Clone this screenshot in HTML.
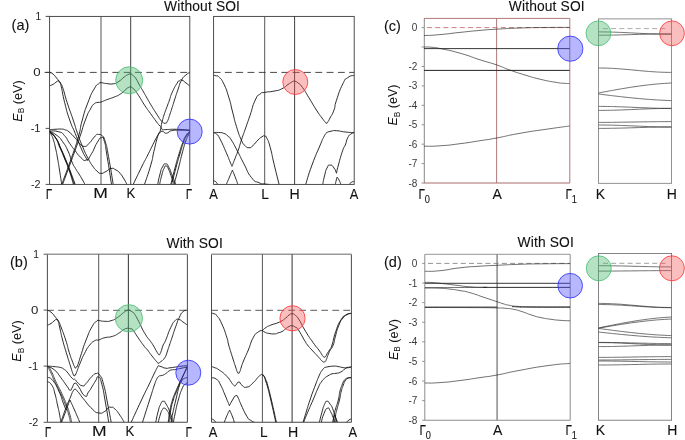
<!DOCTYPE html>
<html><head><meta charset="utf-8"><title>Band structure</title>
<style>
html,body{margin:0;padding:0;background:#fff;}
body{width:685px;height:440px;overflow:hidden;font-family:"Liberation Sans",sans-serif;}
svg{display:block;}
svg text{font-family:"Liberation Sans",sans-serif;}
</style></head><body>
<svg width="685" height="440" viewBox="0 0 685 440">
<rect width="685" height="440" fill="#fff"/>
<defs>
<clipPath id="aL"><rect x="49.60" y="16.40" width="140.20" height="168.00"/></clipPath>
<clipPath id="aR"><rect x="213.60" y="16.40" width="140.60" height="168.00"/></clipPath>
<clipPath id="bL"><rect x="47.40" y="254.20" width="140.00" height="168.10"/></clipPath>
<clipPath id="bR"><rect x="211.50" y="254.20" width="139.90" height="168.10"/></clipPath>
<clipPath id="cL"><rect x="424.00" y="18.40" width="145.80" height="164.60"/></clipPath>
<clipPath id="cR"><rect x="598.40" y="18.90" width="73.20" height="164.40"/></clipPath>
<clipPath id="dL"><rect x="424.70" y="254.30" width="145.50" height="166.00"/></clipPath>
<clipPath id="dR"><rect x="598.40" y="253.40" width="73.20" height="166.80"/></clipPath>
</defs>
<rect x="49.60" y="16.40" width="140.20" height="168.00" fill="none" stroke="#3a3a3a" stroke-width="0.9"/>
<line x1="101.00" y1="16.40" x2="101.00" y2="184.40" stroke="#555" stroke-width="1.0" />
<line x1="130.70" y1="16.40" x2="130.70" y2="184.40" stroke="#2a2a2a" stroke-width="0.9" />
<line x1="44.60" y1="72.40" x2="189.80" y2="72.40" stroke="#333" stroke-width="0.9" stroke-dasharray="6.9 4.4"/>
<rect x="213.60" y="16.40" width="140.60" height="168.00" fill="none" stroke="#3a3a3a" stroke-width="0.9"/>
<line x1="264.70" y1="16.40" x2="264.70" y2="184.40" stroke="#555" stroke-width="1.0" />
<line x1="294.60" y1="16.40" x2="294.60" y2="184.40" stroke="#2a2a2a" stroke-width="0.9" />
<line x1="213.60" y1="72.40" x2="354.20" y2="72.40" stroke="#333" stroke-width="0.9" stroke-dasharray="6.9 4.4"/>
<line x1="45.60" y1="16.40" x2="49.60" y2="16.40" stroke="#3a3a3a" stroke-width="0.9" />
<line x1="45.60" y1="72.40" x2="49.60" y2="72.40" stroke="#3a3a3a" stroke-width="0.9" />
<line x1="45.60" y1="128.40" x2="49.60" y2="128.40" stroke="#3a3a3a" stroke-width="0.9" />
<line x1="45.60" y1="184.40" x2="49.60" y2="184.40" stroke="#3a3a3a" stroke-width="0.9" />
<line x1="47.40" y1="254.20" x2="47.40" y2="422.30" stroke="#4a4a4a" stroke-width="1.0" />
<line x1="187.40" y1="254.20" x2="187.40" y2="422.30" stroke="#4a4a4a" stroke-width="1.0" />
<line x1="47.40" y1="422.30" x2="187.40" y2="422.30" stroke="#444" stroke-width="1.1" />
<line x1="47.10" y1="254.20" x2="187.70" y2="254.20" stroke="#9a9a9a" stroke-width="1.4" />
<line x1="98.70" y1="254.20" x2="98.70" y2="422.30" stroke="#555" stroke-width="1.0" />
<line x1="128.40" y1="254.20" x2="128.40" y2="422.30" stroke="#444" stroke-width="1.1" />
<line x1="47.20" y1="310.30" x2="187.40" y2="310.30" stroke="#4a4a4a" stroke-width="0.9" stroke-dasharray="6.7 4.3"/>
<line x1="211.50" y1="254.20" x2="211.50" y2="422.30" stroke="#4a4a4a" stroke-width="1.0" />
<line x1="351.40" y1="254.20" x2="351.40" y2="422.30" stroke="#4a4a4a" stroke-width="1.0" />
<line x1="211.50" y1="422.30" x2="351.40" y2="422.30" stroke="#444" stroke-width="1.1" />
<line x1="211.20" y1="254.20" x2="351.70" y2="254.20" stroke="#9a9a9a" stroke-width="1.4" />
<line x1="262.40" y1="254.20" x2="262.40" y2="422.30" stroke="#555" stroke-width="1.0" />
<line x1="292.10" y1="254.20" x2="292.10" y2="422.30" stroke="#444" stroke-width="1.1" />
<line x1="211.30" y1="310.30" x2="351.40" y2="310.30" stroke="#4a4a4a" stroke-width="0.9" stroke-dasharray="6.7 4.3"/>
<line x1="43.60" y1="254.20" x2="47.40" y2="254.20" stroke="#444" stroke-width="0.9" />
<line x1="43.60" y1="310.10" x2="47.40" y2="310.10" stroke="#444" stroke-width="0.9" />
<line x1="43.60" y1="366.10" x2="47.40" y2="366.10" stroke="#444" stroke-width="0.9" />
<line x1="43.60" y1="422.30" x2="47.40" y2="422.30" stroke="#444" stroke-width="0.9" />
<line x1="424.30" y1="18.40" x2="424.30" y2="183.00" stroke="#7a7a7a" stroke-width="0.9" />
<line x1="424.00" y1="18.40" x2="569.80" y2="18.40" stroke="#a86a6a" stroke-width="0.9" />
<line x1="424.00" y1="183.00" x2="569.80" y2="183.00" stroke="#a86a6a" stroke-width="1.0" />
<line x1="496.60" y1="18.40" x2="496.60" y2="183.00" stroke="#a86a6a" stroke-width="0.9" />
<line x1="569.80" y1="18.40" x2="569.80" y2="183.00" stroke="#a86a6a" stroke-width="0.9" />
<line x1="427.00" y1="27.60" x2="569.80" y2="27.60" stroke="#c4605a" stroke-width="0.8" stroke-dasharray="5 3.2"/>
<line x1="421.60" y1="27.60" x2="424.00" y2="27.60" stroke="#777" stroke-width="0.8" />
<line x1="421.60" y1="47.03" x2="424.00" y2="47.03" stroke="#777" stroke-width="0.8" />
<line x1="421.60" y1="66.46" x2="424.00" y2="66.46" stroke="#777" stroke-width="0.8" />
<line x1="421.60" y1="85.89" x2="424.00" y2="85.89" stroke="#777" stroke-width="0.8" />
<line x1="421.60" y1="105.32" x2="424.00" y2="105.32" stroke="#777" stroke-width="0.8" />
<line x1="421.60" y1="124.75" x2="424.00" y2="124.75" stroke="#777" stroke-width="0.8" />
<line x1="421.60" y1="144.18" x2="424.00" y2="144.18" stroke="#777" stroke-width="0.8" />
<line x1="421.60" y1="163.61" x2="424.00" y2="163.61" stroke="#777" stroke-width="0.8" />
<line x1="421.60" y1="183.04" x2="424.00" y2="183.04" stroke="#777" stroke-width="0.8" />
<rect x="598.4" y="18.9" width="73.2" height="164.4" fill="none" stroke="#777" stroke-width="0.8"/>
<line x1="602.90" y1="28.60" x2="667.70" y2="28.60" stroke="#999" stroke-width="0.8" stroke-dasharray="5 3.2"/>
<line x1="424.80" y1="254.30" x2="424.80" y2="420.30" stroke="#808080" stroke-width="0.9" />
<line x1="424.70" y1="254.30" x2="570.20" y2="254.30" stroke="#aaa" stroke-width="1.2" />
<line x1="424.70" y1="420.30" x2="570.20" y2="420.30" stroke="#8c8c8c" stroke-width="1.1" />
<line x1="497.10" y1="254.30" x2="497.10" y2="420.30" stroke="#8a8a8a" stroke-width="1.5" />
<line x1="570.20" y1="254.30" x2="570.20" y2="420.30" stroke="#8c8c8c" stroke-width="1.0" />
<line x1="428.00" y1="263.40" x2="570.20" y2="263.40" stroke="#777" stroke-width="0.8" stroke-dasharray="5 3.2"/>
<line x1="422.20" y1="263.40" x2="424.70" y2="263.40" stroke="#777" stroke-width="0.8" />
<line x1="422.20" y1="283.00" x2="424.70" y2="283.00" stroke="#777" stroke-width="0.8" />
<line x1="422.20" y1="302.60" x2="424.70" y2="302.60" stroke="#777" stroke-width="0.8" />
<line x1="422.20" y1="322.20" x2="424.70" y2="322.20" stroke="#777" stroke-width="0.8" />
<line x1="422.20" y1="341.80" x2="424.70" y2="341.80" stroke="#777" stroke-width="0.8" />
<line x1="422.20" y1="361.40" x2="424.70" y2="361.40" stroke="#777" stroke-width="0.8" />
<line x1="422.20" y1="381.00" x2="424.70" y2="381.00" stroke="#777" stroke-width="0.8" />
<line x1="422.20" y1="400.60" x2="424.70" y2="400.60" stroke="#777" stroke-width="0.8" />
<line x1="422.20" y1="420.20" x2="424.70" y2="420.20" stroke="#777" stroke-width="0.8" />
<rect x="598.4" y="253.4" width="73.2" height="166.8" fill="none" stroke="#666" stroke-width="0.8"/>
<line x1="603.00" y1="263.30" x2="667.00" y2="263.30" stroke="#888" stroke-width="0.8" stroke-dasharray="5 3.2"/>
<g clip-path="url(#aL)" fill="none" stroke="#141414" stroke-width="0.9" stroke-linejoin="round">
<path d="M49.60,72.50 C50.73,73.00 50.70,72.17 53.00,74.00 C55.30,75.83 54.50,75.67 56.50,78.00 C58.50,80.33 57.63,79.27 59.00,81.00 C60.37,82.73 59.27,80.70 60.60,83.20 C61.93,85.70 60.80,82.00 63.00,88.50 C65.20,95.00 63.80,92.20 67.20,102.70 C70.60,113.20 69.73,109.70 73.20,120.00 C76.67,130.30 74.50,124.80 77.60,133.60 C80.70,142.40 79.03,138.20 82.50,146.40 C85.97,154.60 84.60,151.63 88.00,158.20 C91.40,164.77 89.70,161.83 92.70,166.10 C95.70,170.37 94.33,168.60 97.00,171.00 C99.67,173.40 97.70,173.13 100.70,173.30 C103.70,173.47 102.57,173.10 106.00,171.50 C109.43,169.90 107.67,169.00 111.00,168.50 C114.33,168.00 113.00,168.40 116.00,170.00 C119.00,171.60 117.33,170.30 120.00,173.30 C122.67,176.30 121.70,175.30 124.00,179.00 C126.30,182.70 125.93,182.60 126.90,184.40"/>
<path d="M49.60,85.80 C50.73,85.33 50.87,85.60 53.00,84.40 C55.13,83.20 54.23,83.33 56.00,82.20 C57.77,81.07 57.10,81.00 58.30,81.00 C59.50,81.00 58.63,80.37 59.60,82.20 C60.57,84.03 59.50,79.67 61.20,86.50 C62.90,93.33 61.87,91.53 64.70,102.70 C67.53,113.87 66.17,109.70 69.70,120.00 C73.23,130.30 71.63,124.50 75.30,133.60 C78.97,142.70 77.07,139.10 80.70,147.30 C84.33,155.50 83.77,153.97 86.20,158.20 C88.63,162.43 87.40,159.40 88.00,160.00"/>
<path d="M61.70,184.40 C64.70,176.27 65.27,175.40 70.70,160.00 C76.13,144.60 74.13,151.53 78.00,138.20 C81.87,124.87 79.00,131.83 82.30,120.00 C85.60,108.17 83.93,113.07 87.90,102.70 C91.87,92.33 90.43,95.33 94.20,88.90 C97.97,82.47 96.90,85.47 99.20,83.40 C101.50,81.33 98.57,82.63 101.10,82.70 C103.63,82.77 102.80,83.23 106.80,83.60 C110.80,83.97 109.33,84.37 113.10,83.80 C116.87,83.23 114.33,84.20 118.10,81.90 C121.87,79.60 121.10,79.33 124.40,76.90 C127.70,74.47 125.90,75.53 128.00,74.60 C130.10,73.67 128.97,73.77 130.70,74.10 C132.43,74.43 131.43,74.03 133.20,75.60 C134.97,77.17 133.87,75.57 136.00,78.80 C138.13,82.03 137.33,81.33 139.60,85.30 C141.87,89.27 140.30,86.40 142.80,90.70 C145.30,95.00 144.20,93.17 147.10,98.20 C150.00,103.23 148.23,100.40 151.50,105.80 C154.77,111.20 153.87,109.67 156.90,114.40 C159.93,119.13 158.60,117.37 160.60,120.00 C162.60,122.63 161.43,121.23 162.90,122.30 C164.37,123.37 163.53,123.50 165.00,123.20 C166.47,122.90 165.63,124.47 167.30,121.40 C168.97,118.33 168.40,118.57 170.00,114.00 C171.60,109.43 170.60,112.37 172.10,107.70 C173.60,103.03 172.60,105.87 174.50,100.00 C176.40,94.13 175.47,96.67 177.80,90.10 C180.13,83.53 178.80,85.33 181.50,80.30 C184.20,75.27 183.13,77.60 185.90,75.00 C188.67,72.40 188.50,73.33 189.80,72.50"/>
<path d="M62.60,184.40 C65.60,176.27 66.00,175.40 71.60,160.00 C77.20,144.60 74.80,151.53 79.40,138.20 C84.00,124.87 81.70,129.77 85.40,120.00 C89.10,110.23 87.57,114.27 90.50,108.90 C93.43,103.53 91.70,106.07 94.20,103.90 C96.70,101.73 95.70,103.03 98.00,102.40 C100.30,101.77 98.17,102.90 101.10,102.00 C104.03,101.10 102.40,101.37 106.80,99.70 C111.20,98.03 109.70,98.93 114.30,97.00 C118.90,95.07 116.83,96.37 120.60,93.90 C124.37,91.43 122.97,91.73 125.60,89.60 C128.23,87.47 126.80,88.37 128.50,87.50 C130.20,86.63 129.13,86.63 130.70,87.00 C132.27,87.37 131.67,87.37 133.20,88.60 C134.73,89.83 133.17,87.87 135.30,90.70 C137.43,93.53 136.37,92.07 139.60,97.10 C142.83,102.13 141.40,100.37 145.00,105.80 C148.60,111.23 146.80,108.37 150.40,113.40 C154.00,118.43 152.93,117.03 155.80,120.90 C158.67,124.77 157.30,123.03 159.00,125.00 C160.70,126.97 160.27,126.20 160.90,126.80 M160.90,126.80 C161.43,127.67 160.37,128.50 162.50,129.40 C164.63,130.30 162.67,129.53 167.30,129.50 C171.93,129.47 168.90,129.13 176.40,129.30 C183.90,129.47 185.33,129.77 189.80,130.00"/>
<path d="M189.80,86.00 C188.53,85.00 188.60,84.93 186.00,83.00 C183.40,81.07 184.17,80.93 182.00,80.20 C179.83,79.47 181.13,79.80 179.50,80.80 C177.87,81.80 179.57,79.27 177.10,83.20 C174.63,87.13 174.63,87.00 172.10,92.60 C169.57,98.20 171.17,95.37 169.50,100.00 C167.83,104.63 168.93,101.50 167.10,106.50 C165.27,111.50 165.47,110.67 164.00,115.00 C162.53,119.33 163.57,116.33 162.70,119.50 C161.83,122.67 162.13,121.00 161.40,124.50 C160.67,128.00 161.63,126.50 160.50,130.00 C159.37,133.50 159.77,131.67 158.00,135.00 C156.23,138.33 158.87,132.83 155.20,140.00 C151.53,147.17 151.20,148.17 147.00,156.50 C142.80,164.83 147.20,155.70 142.60,165.00 C138.00,174.30 136.33,177.93 133.20,184.40"/>
<path d="M144.50,184.40 C146.60,177.93 147.67,176.00 150.80,165.00 C153.93,154.00 151.60,160.93 153.90,151.40 C156.20,141.87 155.83,142.53 157.70,136.40 C159.57,130.27 158.90,134.13 159.50,133.00 M159.50,133.00 C160.33,132.40 160.33,131.33 162.00,131.20 C163.67,131.07 163.03,131.93 164.50,132.60 C165.97,133.27 164.90,133.40 166.40,133.20 C167.90,133.00 167.20,132.87 169.00,132.00 C170.80,131.13 168.13,131.20 171.80,130.60 C175.47,130.00 174.00,130.23 180.00,130.20 C186.00,130.17 186.53,130.40 189.80,130.50"/>
<path d="M157.70,184.40 C158.47,180.93 158.40,179.80 160.00,174.00 C161.60,168.20 160.57,170.37 162.50,167.00 C164.43,163.63 163.63,163.73 165.80,163.90 C167.97,164.07 166.93,163.80 169.00,167.50 C171.07,171.20 169.70,169.37 172.00,175.00 C174.30,180.63 174.60,181.27 175.90,184.40"/>
<path d="M159.60,184.40 C160.33,181.27 160.33,180.30 161.80,175.00 C163.27,169.70 162.60,171.50 164.00,168.50 C165.40,165.50 164.50,165.83 166.00,166.00 C167.50,166.17 166.67,165.33 168.50,169.00 C170.33,172.67 169.50,171.87 171.50,177.00 C173.50,182.13 173.50,181.93 174.50,184.40"/>
<path d="M170.80,184.40 C172.20,178.93 172.27,178.13 175.00,168.00 C177.73,157.87 176.40,162.50 179.00,154.00 C181.60,145.50 180.47,148.67 182.80,142.50 C185.13,136.33 183.67,139.23 186.00,135.50 C188.33,131.77 188.53,132.70 189.80,131.30"/>
<path d="M171.70,184.40 C173.10,178.93 173.17,178.13 175.90,168.00 C178.63,157.87 177.37,162.50 179.90,154.00 C182.43,145.50 181.30,148.50 183.50,142.50 C185.70,136.50 184.40,139.57 186.50,136.00 C188.60,132.43 188.70,133.20 189.80,131.80"/>
<path d="M174.00,184.40 C175.50,178.93 175.83,178.13 178.50,168.00 C181.17,157.87 179.73,162.50 182.00,154.00 C184.27,145.50 183.40,148.33 185.30,142.50 C187.20,136.67 186.20,139.83 187.70,136.50 C189.20,133.17 189.10,133.83 189.80,132.50"/>
<path d="M49.60,129.60 C51.40,129.50 51.00,129.47 55.00,129.30 C59.00,129.13 58.10,128.87 61.60,129.10 C65.10,129.33 63.07,129.10 65.50,130.00 C67.93,130.90 65.63,129.07 68.90,131.80 C72.17,134.53 71.67,134.27 75.30,138.20 C78.93,142.13 76.77,140.87 79.80,143.60 C82.83,146.33 81.37,146.40 84.40,146.40 C87.43,146.40 85.27,147.10 88.90,143.60 C92.53,140.10 92.10,138.93 95.30,135.90 C98.50,132.87 96.10,134.40 98.50,134.50 C100.90,134.60 100.23,133.77 102.50,136.20 C104.77,138.63 103.30,135.07 105.30,141.80 C107.30,148.53 105.87,142.20 108.50,156.40 C111.13,170.60 111.63,175.07 113.20,184.40"/>
<path d="M49.60,130.90 C52.70,131.20 53.97,130.27 58.90,131.80 C63.83,133.33 60.77,131.57 64.40,135.50 C68.03,139.43 66.17,138.47 69.80,143.60 C73.43,148.73 71.67,146.33 75.30,150.90 C78.93,155.47 77.07,154.27 80.70,157.30 C84.33,160.33 82.57,161.23 86.20,160.00 C89.83,158.77 87.97,159.37 91.60,153.60 C95.23,147.83 93.77,148.00 97.10,142.70 C100.43,137.40 99.17,138.10 101.60,137.70 C104.03,137.30 102.57,135.27 104.40,141.50 C106.23,147.73 104.73,142.10 107.10,156.40 C109.47,170.70 110.03,175.07 111.50,184.40"/>
<path d="M49.60,131.50 C51.50,133.43 51.90,132.03 55.30,137.30 C58.70,142.57 56.77,140.33 59.80,147.30 C62.83,154.27 61.33,150.63 64.40,158.20 C67.47,165.77 65.97,161.27 69.00,170.00 C72.03,178.73 72.00,179.60 73.50,184.40"/>
<path d="M49.60,131.80 C51.63,133.87 52.10,132.60 55.70,138.00 C59.30,143.40 57.27,141.00 60.40,148.00 C63.53,155.00 61.97,151.33 65.10,159.00 C68.23,166.67 66.73,162.53 69.80,171.00 C72.87,179.47 72.80,179.93 74.30,184.40"/>
<path d="M49.60,132.10 C51.77,134.30 52.30,133.17 56.10,138.70 C59.90,144.23 57.77,141.67 61.00,148.70 C64.23,155.73 62.60,152.03 65.80,159.80 C69.00,167.57 67.47,163.80 70.60,172.00 C73.73,180.20 73.67,180.27 75.20,184.40"/>
<path d="M49.60,132.00 C50.23,133.00 50.27,132.50 51.50,135.00 C52.73,137.50 51.97,135.17 53.30,139.50 C54.63,143.83 54.10,141.83 55.50,148.00 C56.90,154.17 56.17,150.67 57.50,158.00 C58.83,165.33 58.10,161.20 59.50,170.00 C60.90,178.80 60.97,179.60 61.70,184.40"/>
<path d="M49.60,131.20 C52.07,132.63 52.70,132.07 57.00,135.50 C61.30,138.93 58.83,136.33 62.50,141.50 C66.17,146.67 64.83,144.17 68.00,151.00 C71.17,157.83 69.50,156.17 72.00,162.00 C74.50,167.83 73.17,164.50 75.50,168.50 C77.83,172.50 76.83,170.50 79.00,174.00 C81.17,177.50 80.00,175.53 82.00,179.00 C84.00,182.47 84.00,182.60 85.00,184.40"/>
</g>
<g clip-path="url(#aR)" fill="none" stroke="#141414" stroke-width="0.9" stroke-linejoin="round">
<path d="M213.60,75.30 C214.40,75.47 214.27,75.23 216.00,75.80 C217.73,76.37 216.20,74.30 218.80,77.00 C221.40,79.70 220.43,77.00 223.80,83.90 C227.17,90.80 225.97,88.33 228.90,97.70 C231.83,107.07 230.10,102.47 232.60,112.00 C235.10,121.53 233.47,116.93 236.40,126.30 C239.33,135.67 238.53,133.70 241.40,140.10 C244.27,146.50 242.50,142.97 245.00,145.50 C247.50,148.03 246.23,147.70 248.90,147.70 C251.57,147.70 249.97,148.07 253.00,145.50 C256.03,142.93 255.00,142.90 258.00,140.00 C261.00,137.10 259.80,138.10 262.00,136.80 C264.20,135.50 262.93,135.53 264.60,136.10 C266.27,136.67 265.10,134.63 267.00,138.50 C268.90,142.37 267.97,139.27 270.30,147.70 C272.63,156.13 271.07,151.57 274.00,163.80 C276.93,176.03 277.40,177.53 279.10,184.40"/>
<path d="M213.60,132.60 C214.73,133.23 214.87,132.40 217.00,134.50 C219.13,136.60 216.90,132.83 220.00,138.90 C223.10,144.97 223.13,145.50 226.30,152.70 C229.47,159.90 227.60,155.97 229.50,160.50 C231.40,165.03 231.17,164.37 232.00,166.30 M232.00,166.30 C233.00,163.70 232.90,163.93 235.00,158.50 C237.10,153.07 236.17,156.13 238.30,150.00 C240.43,143.87 238.83,147.77 241.40,140.10 C243.97,132.43 243.13,135.20 246.00,127.00 C248.87,118.80 246.93,124.43 250.00,115.50 C253.07,106.57 251.80,107.40 255.20,100.20 C258.60,93.00 257.07,96.50 260.20,93.90 C263.33,91.30 260.00,93.33 264.60,92.40 C269.20,91.47 268.33,92.27 274.00,91.10 C279.67,89.93 276.93,91.10 281.60,88.90 C286.27,86.70 284.70,86.73 288.00,84.50 C291.30,82.27 289.30,83.27 291.50,82.20 C293.70,81.13 292.43,81.03 294.60,81.30 C296.77,81.57 295.33,80.90 298.00,83.00 C300.67,85.10 298.97,82.70 302.60,87.60 C306.23,92.50 304.30,90.23 308.90,97.70 C313.50,105.17 312.03,103.23 316.40,110.00 C320.77,116.77 319.03,113.93 322.00,118.00 C324.97,122.07 323.80,120.47 325.30,122.20 C326.80,123.93 325.70,123.23 326.50,123.20 C327.30,123.17 326.53,123.83 327.70,122.10 C328.87,120.37 327.90,122.03 330.00,118.00 C332.10,113.97 331.83,115.93 334.00,110.00 C336.17,104.07 333.57,108.90 336.50,100.20 C339.43,91.50 339.03,91.43 342.80,83.90 C346.57,76.37 344.00,80.47 347.80,77.60 C351.60,74.73 352.07,76.07 354.20,75.30"/>
<path d="M213.60,132.60 C215.23,132.57 215.10,132.23 218.50,132.50 C221.90,132.77 220.63,132.17 223.80,133.40 C226.97,134.63 225.47,133.97 228.00,136.20 C230.53,138.43 228.20,135.03 231.40,140.10 C234.60,145.17 233.43,143.50 237.60,151.40 C241.77,159.30 239.27,155.07 243.90,163.80 C248.53,172.53 246.47,171.30 251.50,177.60 C256.53,183.90 254.63,180.60 259.00,182.70 C263.37,184.80 261.27,183.33 264.60,183.90 C267.93,184.47 267.53,184.23 269.00,184.40"/>
<path d="M226.30,184.40 C227.37,181.93 227.47,181.77 229.50,177.00 C231.53,172.23 231.43,172.40 232.40,170.10 M232.40,170.10 C233.27,172.23 233.17,171.73 235.00,176.50 C236.83,181.27 236.93,181.77 237.90,184.40"/>
<path d="M213.60,180.80 C214.33,181.13 214.47,180.60 215.80,181.80 C217.13,183.00 217.00,183.53 217.60,184.40"/>
<path d="M354.20,132.60 C351.23,132.40 351.20,132.63 345.30,132.00 C339.40,131.37 341.27,130.97 336.50,130.70 C331.73,130.43 334.33,130.57 331.00,131.20 C327.67,131.83 328.00,132.13 326.50,132.60 M326.50,132.60 C325.50,134.23 325.60,133.37 323.50,137.50 C321.40,141.63 324.03,135.83 320.20,145.00 C316.37,154.17 316.83,151.87 312.00,165.00 C307.17,178.13 307.80,177.93 305.70,184.40"/>
<path d="M354.20,132.60 C353.13,133.07 353.13,132.33 351.00,134.00 C348.87,135.67 349.70,133.93 347.80,137.60 C345.90,141.27 346.97,140.80 345.30,145.00 C343.63,149.20 345.10,143.53 342.80,150.20 C340.50,156.87 340.50,157.33 338.40,165.00 C336.30,172.67 337.13,170.47 336.50,173.20 M336.50,173.20 C335.67,171.47 336.10,170.70 334.00,168.00 C331.90,165.30 332.53,165.10 330.20,165.10 C327.87,165.10 328.90,164.37 327.00,168.00 C325.10,171.63 325.93,170.53 324.50,176.00 C323.07,181.47 323.30,181.60 322.70,184.40"/>
<path d="M335.20,184.40 C335.57,182.93 335.67,182.47 336.30,180.00 C336.93,177.53 336.83,178.00 337.10,177.00 M337.10,177.00 C337.73,178.00 337.73,177.53 339.00,180.00 C340.27,182.47 340.27,182.93 340.90,184.40"/>
<path d="M349.00,184.40 C349.83,183.70 349.77,183.30 351.50,182.30 C353.23,181.30 353.30,181.70 354.20,181.40"/>
</g>
<g clip-path="url(#bL)" fill="none" stroke="#141414" stroke-width="0.9" stroke-linejoin="round">
<path d="M47.40,310.20 C48.60,310.87 48.63,310.27 51.00,312.20 C53.37,314.13 52.50,313.63 54.50,316.00 C56.50,318.37 55.63,317.57 57.00,319.30 C58.37,321.03 57.27,318.63 58.60,321.20 C59.93,323.77 58.63,320.73 61.00,327.00 C63.37,333.27 62.97,331.57 65.70,340.00 C68.43,348.43 66.83,344.80 69.20,352.30 C71.57,359.80 71.00,357.63 72.80,362.50 C74.60,367.37 73.73,365.03 74.60,366.90 C75.47,368.77 74.83,368.10 75.40,368.10 C75.97,368.10 75.47,368.10 76.30,366.90 C77.13,365.70 76.17,369.03 77.90,364.50 C79.63,359.97 78.77,361.47 81.50,353.30 C84.23,345.13 82.60,348.83 86.10,340.00 C89.60,331.17 88.37,333.13 92.00,326.80 C95.63,320.47 94.70,323.07 97.00,321.00 C99.30,318.93 96.30,320.50 98.90,320.60 C101.50,320.70 100.77,321.27 104.80,321.30 C108.83,321.33 106.83,321.93 111.00,320.70 C115.17,319.47 113.10,320.30 117.30,317.60 C121.50,314.90 120.60,314.87 123.60,312.60 C126.60,310.33 124.70,311.63 126.30,310.80 C127.90,309.97 126.67,309.87 128.40,310.10 C130.13,310.33 129.53,310.27 131.50,311.50 C133.47,312.73 131.90,310.50 134.30,313.80 C136.70,317.10 135.33,315.10 138.70,321.40 C142.07,327.70 140.43,326.00 144.40,332.70 C148.37,339.40 147.73,337.40 150.60,341.50 C153.47,345.60 151.10,341.90 153.00,345.00 C154.90,348.10 154.57,347.87 156.30,350.80 C158.03,353.73 157.20,352.50 158.20,353.80 C159.20,355.10 158.60,354.83 159.30,354.70 C160.00,354.57 159.60,354.80 160.30,353.40 C161.00,352.00 160.43,353.30 161.40,350.50 C162.37,347.70 161.77,348.43 163.20,345.00 C164.63,341.57 163.20,346.00 165.70,340.20 C168.20,334.40 167.57,334.10 170.70,327.60 C173.83,321.10 172.37,323.40 175.10,320.70 C177.83,318.00 176.27,319.07 178.90,319.50 C181.53,319.93 180.17,320.13 183.00,322.00 C185.83,323.87 185.93,324.07 187.40,325.10"/>
<path d="M47.40,325.10 C48.60,324.57 48.80,324.87 51.00,323.50 C53.20,322.13 52.23,322.30 54.00,321.00 C55.77,319.70 54.97,319.60 56.30,319.60 C57.63,319.60 56.83,318.20 58.00,321.00 C59.17,323.80 58.27,321.67 59.80,328.00 C61.33,334.33 60.47,331.90 62.60,340.00 C64.73,348.10 63.63,343.77 66.20,352.30 C68.77,360.83 68.03,358.43 70.30,365.60 C72.57,372.77 71.63,370.40 73.00,373.80 C74.37,377.20 73.57,375.60 74.40,375.80 C75.23,376.00 74.83,375.43 75.50,374.40 C76.17,373.37 74.90,376.33 76.40,372.70 C77.90,369.07 77.27,369.97 80.00,363.50 C82.73,357.03 81.37,359.43 84.60,353.30 C87.83,347.17 86.30,349.30 89.70,345.10 C93.10,340.90 91.78,342.43 94.80,340.70 C97.82,338.97 95.42,340.90 98.75,339.90 C102.08,338.90 100.28,338.87 104.80,337.70 C109.32,336.53 107.70,337.87 112.30,336.40 C116.90,334.93 114.83,335.53 118.60,333.30 C122.37,331.07 121.03,331.30 123.60,329.70 C126.17,328.10 124.70,328.97 126.30,328.50 C127.90,328.03 126.83,328.13 128.40,328.30 C129.97,328.47 129.43,328.37 131.00,329.00 C132.57,329.63 130.73,327.30 133.10,330.20 C135.47,333.10 134.33,332.27 138.10,337.70 C141.87,343.13 141.27,342.40 144.40,346.50 C147.53,350.60 144.97,346.83 147.50,350.00 C150.03,353.17 148.83,352.00 152.00,356.00 C155.17,360.00 154.90,359.60 157.00,362.00 C159.10,364.40 157.50,362.97 158.30,363.20 C159.10,363.43 158.70,363.10 159.40,362.70 C160.10,362.30 159.20,362.97 160.40,362.00 C161.60,361.03 161.30,361.63 163.00,359.80 C164.70,357.97 164.00,359.43 165.50,356.50 C167.00,353.57 166.17,354.83 167.50,351.00 C168.83,347.17 168.00,349.43 169.50,345.00 C171.00,340.57 169.90,343.90 172.00,337.70 C174.10,331.50 173.30,333.30 175.80,326.40 C178.30,319.50 177.00,321.97 179.50,317.00 C182.00,312.03 180.67,313.73 183.30,311.50 C185.93,309.27 186.03,310.70 187.40,310.30"/>
<path d="M131.20,422.30 C134.63,414.87 135.63,412.43 141.50,400.00 C147.37,387.57 144.63,393.67 148.80,385.00 C152.97,376.33 150.87,380.43 154.00,374.00 C157.13,367.57 156.80,368.47 158.20,365.70 M158.20,365.70 C159.13,366.00 158.50,365.77 161.00,366.60 C163.50,367.43 162.70,367.80 165.70,368.20 C168.70,368.60 166.63,368.20 170.00,367.80 C173.37,367.40 172.13,367.53 175.80,367.00 C179.47,366.47 177.13,366.63 181.00,366.20 C184.87,365.77 185.27,365.87 187.40,365.70"/>
<path d="M142.50,422.30 C144.87,414.87 145.63,412.43 149.60,400.00 C153.57,387.57 152.10,391.83 154.40,385.00 C156.70,378.17 155.13,382.30 156.50,379.50 C157.87,376.70 157.00,377.90 158.50,376.60 C160.00,375.30 159.43,376.10 161.00,375.60 C162.57,375.10 161.37,375.97 163.20,375.10 C165.03,374.23 164.40,374.47 166.50,373.00 C168.60,371.53 167.50,371.77 169.50,370.70 C171.50,369.63 170.40,370.20 172.50,369.80 C174.60,369.40 172.97,370.00 175.80,369.50 C178.63,369.00 177.13,369.13 181.00,368.30 C184.87,367.47 185.27,367.43 187.40,367.00"/>
<path d="M187.40,366.30 C184.77,371.87 183.60,374.10 179.50,383.00 C175.40,391.90 177.43,387.33 175.10,393.00 C172.77,398.67 174.20,394.33 172.50,400.00 C170.80,405.67 171.43,402.57 170.00,410.00 C168.57,417.43 168.80,418.20 168.20,422.30"/>
<path d="M187.40,366.80 C185.00,372.07 184.03,373.87 180.20,382.60 C176.37,391.33 178.20,387.20 175.90,393.00 C173.60,398.80 175.00,394.33 173.30,400.00 C171.60,405.67 172.23,402.57 170.80,410.00 C169.37,417.43 169.60,418.20 169.00,422.30"/>
<path d="M187.40,377.60 C186.03,378.03 185.27,377.60 183.30,378.90 C181.33,380.20 182.77,379.40 181.50,381.50 C180.23,383.60 181.40,379.03 179.50,385.20 C177.60,391.37 178.03,390.73 175.80,400.00 C173.57,409.27 174.40,405.57 172.80,413.00 C171.20,420.43 171.60,419.20 171.00,422.30"/>
<path d="M187.40,382.70 C186.43,383.47 186.30,382.93 184.50,385.00 C182.70,387.07 184.07,383.90 182.00,388.90 C179.93,393.90 180.63,391.63 178.30,400.00 C175.97,408.37 176.63,406.57 175.00,414.00 C173.37,421.43 173.93,419.53 173.40,422.30"/>
<path d="M155.70,422.30 C156.47,418.87 156.40,417.93 158.00,412.00 C159.60,406.07 158.77,408.07 160.50,404.50 C162.23,400.93 161.37,401.47 163.20,401.30 C165.03,401.13 163.70,400.23 166.00,404.00 C168.30,407.77 167.70,406.50 170.10,412.60 C172.50,418.70 172.17,419.07 173.20,422.30"/>
<path d="M158.20,422.30 C158.97,419.53 159.07,418.27 160.50,414.00 C161.93,409.73 161.17,411.43 162.50,409.50 C163.83,407.57 163.00,407.87 164.50,408.20 C166.00,408.53 165.33,408.20 167.00,410.50 C168.67,412.80 167.83,411.17 169.50,415.10 C171.17,419.03 171.17,419.90 172.00,422.30"/>
<path d="M47.40,366.10 C49.60,366.27 49.53,366.10 54.00,366.60 C58.47,367.10 57.47,366.70 60.80,367.60 C64.13,368.50 61.90,367.83 64.00,369.30 C66.10,370.77 64.40,369.03 67.10,372.00 C69.80,374.97 69.50,375.70 72.10,378.20 C74.70,380.70 73.20,378.23 74.90,379.50 C76.60,380.77 74.77,379.90 77.20,382.00 C79.63,384.10 79.27,385.30 82.20,385.80 C85.13,386.30 83.50,385.80 86.00,383.50 C88.50,381.20 87.37,381.57 89.70,378.90 C92.03,376.23 90.90,377.27 93.00,375.50 C95.10,373.73 93.77,373.73 96.00,373.60 C98.23,373.47 97.17,371.47 99.70,375.10 C102.23,378.73 100.93,374.87 103.60,384.50 C106.27,394.13 105.17,391.40 107.70,404.00 C110.23,416.60 110.03,416.20 111.20,422.30"/>
<path d="M47.40,366.50 C49.80,367.70 50.13,366.40 54.60,370.10 C59.07,373.80 56.63,372.17 60.80,377.60 C64.97,383.03 63.97,382.20 67.10,386.40 C70.23,390.60 68.40,390.00 70.20,390.20 C72.00,390.40 70.93,389.30 72.50,387.00 C74.07,384.70 72.93,383.50 74.90,383.30 C76.87,383.10 75.13,382.23 78.40,386.40 C81.67,390.57 81.33,393.93 84.70,395.80 C88.07,397.67 86.00,395.13 88.50,392.00 C91.00,388.87 89.87,390.07 92.20,386.40 C94.53,382.73 93.40,384.13 95.50,381.00 C97.60,377.87 96.40,376.00 98.50,377.00 C100.60,378.00 99.47,375.33 101.80,384.00 C104.13,392.67 103.20,390.23 105.50,403.00 C107.80,415.77 107.63,415.87 108.70,422.30"/>
<path d="M47.40,377.20 C49.23,378.37 49.10,376.10 52.90,380.70 C56.70,385.30 55.37,383.63 58.80,391.00 C62.23,398.37 60.87,396.63 63.20,402.80 C65.53,408.97 64.93,407.27 65.80,409.50"/>
<path d="M60.80,422.30 C62.60,417.30 62.97,415.73 66.20,407.30 C69.43,398.87 68.23,402.37 70.50,397.00 C72.77,391.63 71.47,393.77 73.00,391.20 C74.53,388.63 73.77,389.43 75.10,389.30 C76.43,389.17 75.47,389.27 77.00,390.80 C78.53,392.33 77.57,391.23 79.70,393.90 C81.83,396.57 79.23,393.80 83.40,398.80 C87.57,403.80 87.17,404.20 92.20,408.90 C97.23,413.60 94.30,412.07 98.50,412.90 C102.70,413.73 101.63,413.03 104.80,411.40 C107.97,409.77 105.93,409.37 108.00,408.00 C110.07,406.63 108.73,407.00 111.00,407.30 C113.27,407.60 111.87,406.30 114.80,408.90 C117.73,411.50 116.67,410.63 119.80,415.10 C122.93,419.57 122.73,419.90 124.20,422.30"/>
<path d="M61.60,422.30 C63.27,417.87 63.83,416.47 66.60,409.00 C69.37,401.53 68.80,402.93 69.90,399.90 M69.90,399.90 C71.43,403.27 71.20,402.53 74.50,410.00 C77.80,417.47 78.03,418.20 79.80,422.30"/>
<path d="M47.40,381.40 C48.93,382.77 49.47,381.30 52.00,385.50 C54.53,389.70 53.17,387.50 55.00,394.00 C56.83,400.50 56.00,398.33 57.50,405.00 C59.00,411.67 58.40,408.23 59.50,414.00 C60.60,419.77 60.37,419.53 60.80,422.30"/>
<path d="M47.40,366.30 C48.60,368.53 48.60,367.97 51.00,373.00 C53.40,378.03 51.33,374.43 54.60,381.40 C57.87,388.37 57.17,386.03 60.80,393.90 C64.43,401.77 62.93,398.30 65.50,405.00 C68.07,411.70 66.83,408.23 68.50,414.00 C70.17,419.77 69.83,419.53 70.50,422.30" stroke-width="0.75"/>
<path d="M48.60,366.30 C49.80,368.53 49.80,367.97 52.20,373.00 C54.60,378.03 52.53,374.43 55.80,381.40 C59.07,388.37 58.37,386.03 62.00,393.90 C65.63,401.77 64.13,398.30 66.70,405.00 C69.27,411.70 68.03,408.23 69.70,414.00 C71.37,419.77 71.03,419.53 71.70,422.30" stroke-width="0.75"/>
</g>
<g clip-path="url(#bR)" fill="none" stroke="#141414" stroke-width="0.9" stroke-linejoin="round">
<path d="M211.50,313.20 C212.33,313.40 212.23,312.97 214.00,313.80 C215.77,314.63 214.20,312.33 216.80,315.70 C219.40,319.07 218.43,316.57 221.80,323.90 C225.17,331.23 224.60,330.67 226.90,337.70 C229.20,344.73 226.67,337.90 228.70,345.00 C230.73,352.10 230.70,351.67 233.00,359.00 C235.30,366.33 234.20,362.80 235.60,367.00 C237.00,371.20 236.23,369.53 237.20,371.60 C238.17,373.67 237.60,373.23 238.50,373.20 C239.40,373.17 238.97,373.57 239.90,371.50 C240.83,369.43 240.10,370.50 241.30,367.00 C242.50,363.50 241.17,366.67 243.50,361.00 C245.83,355.33 245.07,357.77 248.30,350.00 C251.53,342.23 249.90,343.70 253.20,337.70 C256.50,331.70 255.13,334.40 258.20,332.00 C261.27,329.60 261.00,331.00 262.40,330.50 M262.40,330.50 C263.60,329.50 263.20,329.30 266.00,327.50 C268.80,325.70 266.27,326.93 270.80,325.10 C275.33,323.27 274.70,324.30 279.60,322.00 C284.50,319.70 282.37,320.50 285.50,318.20 C288.63,315.90 286.80,316.57 289.00,315.10 C291.20,313.63 289.93,313.67 292.10,313.80 C294.27,313.93 293.10,313.40 295.50,315.50 C297.90,317.60 295.93,314.80 299.30,320.10 C302.67,325.40 300.97,323.87 305.60,331.40 C310.23,338.93 308.80,336.50 313.20,342.70 C317.60,348.90 316.03,346.23 318.80,350.00 C321.57,353.77 320.10,351.93 321.50,354.00 C322.90,356.07 322.00,355.13 323.00,356.20 C324.00,357.27 323.53,357.23 324.50,357.20 C325.47,357.17 325.00,357.37 325.90,356.10 C326.80,354.83 326.00,355.43 327.20,353.40 C328.40,351.37 327.90,352.80 329.50,350.00 C331.10,347.20 329.90,351.20 332.00,345.00 C334.10,338.80 332.87,339.70 335.80,331.40 C338.73,323.10 337.47,325.53 340.80,320.10 C344.13,314.67 342.27,317.40 345.80,315.10 C349.33,312.80 349.53,313.83 351.40,313.20"/>
<path d="M262.40,330.50 C263.27,331.07 263.03,331.27 265.00,332.20 C266.97,333.13 265.10,332.73 268.30,333.30 C271.50,333.87 271.37,334.03 274.60,333.90 C277.83,333.77 275.50,333.70 278.00,332.90 C280.50,332.10 279.60,332.83 282.10,331.50 C284.60,330.17 283.20,330.57 285.50,328.90 C287.80,327.23 286.80,327.53 289.00,326.50 C291.20,325.47 290.10,325.63 292.10,325.80 C294.10,325.97 293.00,325.77 295.00,327.00 C297.00,328.23 294.97,325.10 298.10,329.50 C301.23,333.90 301.27,335.03 304.40,340.20 C307.53,345.37 305.00,341.73 307.50,345.00 C310.00,348.27 308.40,346.17 311.90,350.00 C315.40,353.83 314.97,353.17 318.00,356.50 C321.03,359.83 319.43,358.33 321.00,360.00 C322.57,361.67 321.63,360.83 322.70,361.50 C323.77,362.17 323.23,362.17 324.20,362.00 C325.17,361.83 324.73,362.20 325.60,361.00 C326.47,359.80 325.50,361.57 326.80,358.40 C328.10,355.23 327.37,355.97 329.50,351.50 C331.63,347.03 331.20,350.17 333.20,345.00 C335.20,339.83 333.57,342.67 335.50,336.00 C337.43,329.33 336.50,331.00 339.00,325.00 C341.50,319.00 340.33,321.47 343.00,318.00 C345.67,314.53 344.20,316.13 347.00,314.60 C349.80,313.07 349.93,313.80 351.40,313.40"/>
<path d="M211.50,366.60 C212.67,367.00 212.40,366.63 215.00,367.80 C217.60,368.97 215.33,367.23 219.30,370.10 C223.27,372.97 222.30,371.60 226.90,376.40 C231.50,381.20 230.20,381.57 233.10,384.50 C236.00,387.43 233.70,386.03 235.60,385.20 C237.50,384.37 236.70,382.00 238.80,382.00 C240.90,382.00 239.20,383.50 241.90,385.20 C244.60,386.90 243.13,387.93 246.90,387.10 C250.67,386.27 249.00,386.47 253.20,382.70 C257.40,378.93 256.43,378.33 259.50,375.80 C262.57,373.27 260.90,374.87 262.40,375.10 C263.90,375.33 262.87,374.40 264.00,376.50 C265.13,378.60 264.80,378.57 265.80,381.40 C266.80,384.23 265.33,378.80 267.00,385.00 C268.67,391.20 267.87,387.57 270.80,400.00 C273.73,412.43 274.13,414.87 275.80,422.30"/>
<path d="M262.40,375.10 C263.07,375.57 263.10,374.40 264.40,376.50 C265.70,378.60 265.23,378.57 266.30,381.40 C267.37,384.23 265.90,378.80 267.60,385.00 C269.30,391.20 268.47,387.57 271.40,400.00 C274.33,412.43 274.73,414.87 276.40,422.30"/>
<path d="M211.50,377.60 C213.27,378.23 213.77,377.03 216.80,379.50 C219.83,381.97 217.87,379.83 220.60,385.00 C223.33,390.17 222.07,388.10 225.00,395.00 C227.93,401.90 227.93,402.13 229.40,405.70 M229.40,405.70 C230.43,403.80 230.33,403.33 232.50,400.00 C234.67,396.67 233.90,396.20 235.90,395.70 C237.90,395.20 236.90,395.80 238.50,398.50 C240.10,401.20 237.90,397.83 240.70,403.80 C243.50,409.77 243.47,410.83 246.90,416.40 C250.33,421.97 248.47,418.53 251.00,420.50 C253.53,422.47 253.33,421.70 254.50,422.30"/>
<path d="M224.30,422.30 C225.20,420.03 225.23,419.57 227.00,415.50 C228.77,411.43 228.73,411.90 229.60,410.10 M229.60,410.10 C230.40,411.90 230.40,411.43 232.00,415.50 C233.60,419.57 233.60,420.03 234.40,422.30"/>
<path d="M211.50,418.90 C212.27,419.27 212.43,418.87 213.80,420.00 C215.17,421.13 215.00,421.53 215.60,422.30"/>
<path d="M351.40,367.00 C349.93,367.27 349.70,367.60 347.00,367.80 C344.30,368.00 346.30,368.03 343.30,367.60 C340.30,367.17 340.93,367.00 338.00,366.50 C335.07,366.00 337.50,366.07 334.50,366.10 C331.50,366.13 332.33,366.10 329.00,366.60 C325.67,367.10 326.00,367.27 324.50,367.60 M324.50,367.60 C323.67,368.57 323.70,368.00 322.00,370.50 C320.30,373.00 321.93,369.37 319.40,375.10 C316.87,380.83 317.53,379.40 314.40,387.70 C311.27,396.00 312.63,392.23 310.00,400.00 C307.37,407.77 308.80,403.57 306.50,411.00 C304.20,418.43 304.23,418.53 303.10,422.30"/>
<path d="M351.40,367.00 C350.43,367.10 350.37,366.90 348.50,367.30 C346.63,367.70 348.37,366.63 345.80,368.20 C343.23,369.77 344.07,370.30 340.80,372.00 C337.53,373.70 338.93,372.67 336.00,373.30 C333.07,373.93 334.67,373.07 332.00,373.90 C329.33,374.73 330.50,374.33 328.00,375.80 C325.50,377.27 326.83,376.07 324.50,378.30 C322.17,380.53 323.00,379.60 321.00,382.50 C319.00,385.40 321.17,381.17 318.50,387.00 C315.83,392.83 316.50,391.83 313.00,400.00 C309.50,408.17 311.13,404.07 308.00,411.50 C304.87,418.93 305.07,418.70 303.60,422.30"/>
<path d="M351.40,377.90 C350.27,377.93 349.87,377.67 348.00,378.00 C346.13,378.33 347.30,377.73 345.80,378.90 C344.30,380.07 344.77,379.40 343.50,381.50 C342.23,383.60 343.17,382.03 342.00,385.20 C340.83,388.37 341.23,386.07 340.00,391.00 C338.77,395.93 339.80,394.00 338.30,400.00 C336.80,406.00 336.93,404.00 335.50,409.00 C334.07,414.00 334.57,410.57 334.00,415.00 C333.43,419.43 333.87,419.87 333.80,422.30"/>
<path d="M351.40,377.50 C350.77,377.53 350.73,377.33 349.50,377.60 C348.27,377.87 349.20,377.17 347.70,378.30 C346.20,379.43 346.47,378.70 345.00,381.00 C343.53,383.30 344.53,381.87 343.30,385.20 C342.07,388.53 342.57,386.07 341.30,391.00 C340.03,395.93 340.93,394.00 339.50,400.00 C338.07,406.00 338.33,403.67 337.00,409.00 C335.67,414.33 336.10,411.57 335.50,416.00 C334.90,420.43 335.30,420.20 335.20,422.30"/>
<path d="M319.40,422.30 C320.27,418.87 320.30,417.93 322.00,412.00 C323.70,406.07 322.83,408.07 324.50,404.50 C326.17,400.93 325.17,401.47 327.00,401.30 C328.83,401.13 327.93,401.07 330.00,404.00 C332.07,406.93 330.87,404.00 333.20,410.10 C335.53,416.20 335.73,418.23 337.00,422.30"/>
<path d="M321.30,422.30 C322.20,419.37 321.90,418.20 324.00,413.50 C326.10,408.80 325.43,408.87 327.60,408.20 C329.77,407.53 328.63,408.37 330.50,411.50 C332.37,414.63 331.70,414.00 333.20,417.60 C334.70,421.20 334.40,420.73 335.00,422.30"/>
<path d="M346.40,422.30 C347.27,421.53 347.33,421.13 349.00,420.00 C350.67,418.87 350.60,419.27 351.40,418.90"/>
<path d="M332.60,422.30 C332.93,420.87 332.93,420.33 333.60,418.00 C334.27,415.67 334.27,416.20 334.60,415.30 M334.60,415.30 C335.07,416.37 335.00,416.17 336.00,418.50 C337.00,420.83 337.07,421.03 337.60,422.30"/>
</g>
<g clip-path="url(#cL)" fill="none" stroke="#222" stroke-width="0.65" stroke-linejoin="round">
<path d="M424.00,35.60 C429.33,35.27 428.00,35.67 440.00,34.60 C452.00,33.53 446.67,33.80 460.00,32.40 C473.33,31.00 467.80,31.47 480.00,30.40 C492.20,29.33 483.27,30.00 496.60,29.20 C509.93,28.40 503.87,28.57 520.00,28.00 C536.13,27.43 528.40,27.70 545.00,27.50 C561.60,27.30 561.53,27.43 569.80,27.40"/>
<path d="M424.00,48.60 L569.80,48.60" stroke-width="0.9"/>
<path d="M424.00,47.00 C426.67,47.10 426.67,46.80 432.00,47.30 C437.33,47.80 430.67,46.53 440.00,48.50 C449.33,50.47 446.67,49.43 460.00,53.20 C473.33,56.97 467.80,55.90 480.00,59.80 C492.20,63.70 486.60,61.47 496.60,64.90 C506.60,68.33 500.53,66.73 510.00,70.10 C519.47,73.47 515.00,71.97 525.00,75.00 C535.00,78.03 530.00,76.80 540.00,79.20 C550.00,81.60 547.00,80.83 555.00,82.20 C563.00,83.57 559.07,82.87 564.00,83.30 C568.93,83.73 567.87,83.43 569.80,83.50"/>
<path d="M424.00,70.40 L569.80,70.40" stroke-width="1.0"/>
<path d="M424.00,146.20 C429.33,146.07 428.00,146.63 440.00,145.80 C452.00,144.97 446.67,145.40 460.00,143.70 C473.33,142.00 467.80,142.60 480.00,140.70 C492.20,138.80 483.27,140.47 496.60,138.00 C509.93,135.53 502.87,136.30 520.00,133.30 C537.13,130.30 531.40,131.43 548.00,129.00 C564.60,126.57 562.53,127.00 569.80,126.00"/>
</g>
<g clip-path="url(#cR)" fill="none" stroke="#222" stroke-width="0.65" stroke-linejoin="round">
<path d="M598.40,31.90 C601.45,31.93 601.45,31.87 607.55,31.99 C613.65,32.11 610.60,32.03 616.70,32.25 C622.80,32.47 619.75,32.36 625.85,32.64 C631.95,32.92 628.90,32.79 635.00,33.10 C641.10,33.41 638.05,33.28 644.15,33.56 C650.25,33.84 647.20,33.73 653.30,33.95 C659.40,34.17 656.35,34.09 662.45,34.21 C668.55,34.33 668.55,34.27 671.60,34.30"/>
<path d="M598.40,35.20 C601.45,35.18 601.45,35.22 607.55,35.15 C613.65,35.08 610.60,35.12 616.70,34.99 C622.80,34.87 619.75,34.93 625.85,34.77 C631.95,34.60 628.90,34.68 635.00,34.50 C641.10,34.32 638.05,34.40 644.15,34.23 C650.25,34.07 647.20,34.13 653.30,34.01 C659.40,33.88 656.35,33.92 662.45,33.85 C668.55,33.78 668.55,33.82 671.60,33.80"/>
<path d="M598.40,68.00 C601.45,68.06 601.45,67.95 607.55,68.17 C613.65,68.38 610.60,68.25 616.70,68.64 C622.80,69.04 619.75,68.84 625.85,69.36 C631.95,69.88 628.90,69.64 635.00,70.20 C641.10,70.76 638.05,70.52 644.15,71.04 C650.25,71.56 647.20,71.36 653.30,71.76 C659.40,72.15 656.35,72.02 662.45,72.23 C668.55,72.45 668.55,72.34 671.60,72.40"/>
<path d="M598.40,93.00 C601.45,92.43 601.45,92.42 607.55,91.29 C613.65,90.17 610.60,90.71 616.70,89.64 C622.80,88.56 619.75,89.07 625.85,88.08 C631.95,87.08 628.90,87.54 635.00,86.65 C641.10,85.76 638.05,86.17 644.15,85.41 C650.25,84.65 647.20,84.98 653.30,84.37 C659.40,83.75 656.35,84.02 662.45,83.56 C668.55,83.11 668.55,83.19 671.60,83.00"/>
<path d="M598.40,94.00 C601.45,94.38 601.45,94.39 607.55,95.13 C613.65,95.87 610.60,95.51 616.70,96.22 C622.80,96.93 619.75,96.59 625.85,97.25 C631.95,97.91 628.90,97.60 635.00,98.19 C641.10,98.78 638.05,98.51 644.15,99.01 C650.25,99.51 647.20,99.29 653.30,99.70 C659.40,100.10 656.35,99.93 662.45,100.23 C668.55,100.53 668.55,100.48 671.60,100.60"/>
<path d="M598.40,106.40 C601.45,106.43 601.45,106.38 607.55,106.48 C613.65,106.57 610.60,106.51 616.70,106.69 C622.80,106.87 619.75,106.78 625.85,107.02 C631.95,107.25 628.90,107.14 635.00,107.40 C641.10,107.66 638.05,107.55 644.15,107.78 C650.25,108.02 647.20,107.93 653.30,108.11 C659.40,108.29 656.35,108.23 662.45,108.32 C668.55,108.42 668.55,108.37 671.60,108.40"/>
<path d="M598.40,110.40 C601.45,110.37 601.45,110.42 607.55,110.32 C613.65,110.23 610.60,110.29 616.70,110.11 C622.80,109.93 619.75,110.02 625.85,109.78 C631.95,109.55 628.90,109.66 635.00,109.40 C641.10,109.14 638.05,109.25 644.15,109.02 C650.25,108.78 647.20,108.87 653.30,108.69 C659.40,108.51 656.35,108.57 662.45,108.48 C668.55,108.38 668.55,108.43 671.60,108.40"/>
<path d="M598.40,122.40 C601.45,122.39 601.45,122.41 607.55,122.37 C613.65,122.33 610.60,122.36 616.70,122.28 C622.80,122.21 619.75,122.25 625.85,122.15 C631.95,122.06 628.90,122.10 635.00,122.00 C641.10,121.90 638.05,121.94 644.15,121.85 C650.25,121.75 647.20,121.79 653.30,121.72 C659.40,121.64 656.35,121.67 662.45,121.63 C668.55,121.59 668.55,121.61 671.60,121.60"/>
<path d="M598.40,125.00 C601.45,125.03 601.45,124.98 607.55,125.08 C613.65,125.17 610.60,125.11 616.70,125.29 C622.80,125.47 619.75,125.38 625.85,125.62 C631.95,125.85 628.90,125.74 635.00,126.00 C641.10,126.26 638.05,126.15 644.15,126.38 C650.25,126.62 647.20,126.53 653.30,126.71 C659.40,126.89 656.35,126.83 662.45,126.92 C668.55,127.02 668.55,126.97 671.60,127.00"/>
<path d="M598.40,128.40 C601.45,128.38 601.45,128.42 607.55,128.35 C613.65,128.28 610.60,128.32 616.70,128.19 C622.80,128.07 619.75,128.13 625.85,127.97 C631.95,127.80 628.90,127.88 635.00,127.70 C641.10,127.52 638.05,127.60 644.15,127.43 C650.25,127.27 647.20,127.33 653.30,127.21 C659.40,127.08 656.35,127.12 662.45,127.05 C668.55,126.98 668.55,127.02 671.60,127.00"/>
</g>
<g clip-path="url(#dL)" fill="none" stroke="#222" stroke-width="0.65" stroke-linejoin="round">
<path d="M424.70,271.30 C429.80,271.10 428.23,271.87 440.00,270.70 C451.77,269.53 446.67,269.30 460.00,267.80 C473.33,266.30 467.67,267.03 480.00,266.20 C492.33,265.37 483.67,265.93 497.00,265.30 C510.33,264.67 504.00,264.80 520.00,264.30 C536.00,263.80 528.27,264.03 545.00,263.80 C561.73,263.57 561.80,263.67 570.20,263.60"/>
<path d="M424.70,283.30 L570.20,283.30" stroke-width="0.9"/>
<path d="M424.70,282.40 C427.13,282.43 426.90,282.20 432.00,282.50 C437.10,282.80 432.33,282.43 440.00,283.30 C447.67,284.17 445.00,283.93 455.00,285.10 C465.00,286.27 460.00,286.07 470.00,286.80 C480.00,287.53 476.00,287.10 485.00,287.30 C494.00,287.50 468.60,287.37 497.00,287.40 C525.40,287.43 545.80,287.40 570.20,287.40"/>
<path d="M424.70,287.70 C439.80,287.63 421.50,287.60 470.00,287.50 C518.50,287.40 536.80,287.43 570.20,287.40"/>
<path d="M424.70,287.90 C429.80,288.00 431.57,287.80 440.00,288.20 C448.43,288.60 443.33,288.30 450.00,289.10 C456.67,289.90 453.33,289.40 460.00,290.60 C466.67,291.80 461.67,290.33 470.00,292.70 C478.33,295.07 476.00,294.70 485.00,297.70 C494.00,300.70 491.00,299.70 497.00,301.70 C503.00,303.70 499.07,302.53 503.00,303.70 C506.93,304.87 503.80,304.30 508.80,305.20 C513.80,306.10 510.93,305.87 518.00,306.40 C525.07,306.93 512.60,306.63 530.00,306.80 C547.40,306.97 556.80,306.87 570.20,306.90"/>
<path d="M424.70,307.10 L497.00,307.10" stroke-width="0.9"/>
<path d="M512.00,306.60 C518.00,306.77 510.60,306.90 530.00,307.10 C549.40,307.30 556.80,307.17 570.20,307.20" stroke-width="0.9"/>
<path d="M424.70,307.50 C439.80,307.53 445.90,307.47 470.00,307.60 C494.10,307.73 485.00,307.63 497.00,307.90 C509.00,308.17 500.50,307.93 506.00,308.40 C511.50,308.87 508.17,308.23 513.50,309.30 C518.83,310.37 515.83,309.63 522.00,311.60 C528.17,313.57 525.67,313.20 532.00,315.20 C538.33,317.20 534.67,316.23 541.00,317.60 C547.33,318.97 544.67,318.40 551.00,319.30 C557.33,320.20 553.60,319.80 560.00,320.30 C566.40,320.80 566.80,320.63 570.20,320.80"/>
<path d="M424.70,383.00 C429.80,382.87 428.23,383.43 440.00,382.60 C451.77,381.77 446.67,382.17 460.00,380.50 C473.33,378.83 467.67,379.43 480.00,377.60 C492.33,375.77 483.67,377.43 497.00,375.00 C510.33,372.57 503.00,373.43 520.00,370.30 C537.00,367.17 531.27,367.90 548.00,365.60 C564.73,363.30 562.80,364.13 570.20,363.40"/>
</g>
<g clip-path="url(#dR)" fill="none" stroke="#222" stroke-width="0.65" stroke-linejoin="round">
<path d="M598.40,265.70 C601.45,265.72 601.45,265.69 607.55,265.75 C613.65,265.80 610.60,265.77 616.70,265.88 C622.80,265.98 619.75,265.93 625.85,266.07 C631.95,266.21 628.90,266.15 635.00,266.30 C641.10,266.45 638.05,266.39 644.15,266.53 C650.25,266.67 647.20,266.62 653.30,266.72 C659.40,266.83 656.35,266.80 662.45,266.85 C668.55,266.91 668.55,266.88 671.60,266.90"/>
<path d="M598.40,271.10 C601.45,271.09 601.45,271.11 607.55,271.08 C613.65,271.06 610.60,271.07 616.70,271.03 C622.80,270.98 619.75,271.00 625.85,270.95 C631.95,270.89 628.90,270.91 635.00,270.85 C641.10,270.79 638.05,270.81 644.15,270.75 C650.25,270.70 647.20,270.72 653.30,270.67 C659.40,270.63 656.35,270.64 662.45,270.62 C668.55,270.59 668.55,270.61 671.60,270.60"/>
<path d="M598.40,303.40 C601.45,303.45 601.45,303.36 607.55,303.56 C613.65,303.76 610.60,303.63 616.70,304.00 C622.80,304.37 619.75,304.18 625.85,304.67 C631.95,305.15 628.90,304.93 635.00,305.45 C641.10,305.97 638.05,305.75 644.15,306.23 C650.25,306.72 647.20,306.53 653.30,306.90 C659.40,307.27 656.35,307.14 662.45,307.34 C668.55,307.54 668.55,307.45 671.60,307.50"/>
<path d="M598.40,304.50 C601.45,304.54 601.45,304.47 607.55,304.62 C613.65,304.78 610.60,304.68 616.70,304.97 C622.80,305.26 619.75,305.11 625.85,305.49 C631.95,305.86 628.90,305.69 635.00,306.10 C641.10,306.51 638.05,306.34 644.15,306.71 C650.25,307.09 647.20,306.94 653.30,307.23 C659.40,307.52 656.35,307.42 662.45,307.58 C668.55,307.73 668.55,307.66 671.60,307.70"/>
<path d="M598.40,328.00 C601.45,327.37 601.45,327.36 607.55,326.12 C613.65,324.89 610.60,325.48 616.70,324.30 C622.80,323.12 619.75,323.68 625.85,322.58 C631.95,321.49 628.90,322.00 635.00,321.02 C641.10,320.04 638.05,320.49 644.15,319.65 C650.25,318.81 647.20,319.18 653.30,318.51 C659.40,317.83 656.35,318.12 662.45,317.62 C668.55,317.12 668.55,317.21 671.60,317.00"/>
<path d="M598.40,328.20 C601.45,327.68 601.45,327.66 607.55,326.63 C613.65,325.60 610.60,326.09 616.70,325.11 C622.80,324.12 619.75,324.59 625.85,323.67 C631.95,322.76 628.90,323.18 635.00,322.36 C641.10,321.54 638.05,321.92 644.15,321.22 C650.25,320.51 647.20,320.83 653.30,320.26 C659.40,319.69 656.35,319.94 662.45,319.52 C668.55,319.10 668.55,319.17 671.60,319.00"/>
<path d="M598.40,328.40 C601.45,328.81 601.45,328.82 607.55,329.63 C613.65,330.44 610.60,330.05 616.70,330.82 C622.80,331.59 619.75,331.23 625.85,331.95 C631.95,332.66 628.90,332.33 635.00,332.97 C641.10,333.61 638.05,333.32 644.15,333.87 C650.25,334.41 647.20,334.17 653.30,334.61 C659.40,335.06 656.35,334.87 662.45,335.20 C668.55,335.52 668.55,335.47 671.60,335.60"/>
<path d="M598.40,332.00 C601.45,332.33 601.45,332.34 607.55,332.99 C613.65,333.64 610.60,333.33 616.70,333.95 C622.80,334.57 619.75,334.28 625.85,334.86 C631.95,335.43 628.90,335.16 635.00,335.68 C641.10,336.20 638.05,335.96 644.15,336.40 C650.25,336.84 647.20,336.65 653.30,337.01 C659.40,337.36 656.35,337.21 662.45,337.47 C668.55,337.74 668.55,337.69 671.60,337.80"/>
<path d="M598.40,342.40 C601.45,342.42 601.45,342.39 607.55,342.45 C613.65,342.50 610.60,342.47 616.70,342.58 C622.80,342.68 619.75,342.63 625.85,342.77 C631.95,342.91 628.90,342.85 635.00,343.00 C641.10,343.15 638.05,343.09 644.15,343.23 C650.25,343.37 647.20,343.32 653.30,343.42 C659.40,343.53 656.35,343.50 662.45,343.55 C668.55,343.61 668.55,343.58 671.60,343.60"/>
<path d="M598.40,342.60 C601.45,342.63 601.45,342.57 607.55,342.69 C613.65,342.81 610.60,342.73 616.70,342.95 C622.80,343.17 619.75,343.06 625.85,343.34 C631.95,343.62 628.90,343.49 635.00,343.80 C641.10,344.11 638.05,343.98 644.15,344.26 C650.25,344.54 647.20,344.43 653.30,344.65 C659.40,344.87 656.35,344.79 662.45,344.91 C668.55,345.03 668.55,344.97 671.60,345.00"/>
<path d="M598.40,346.60 C601.45,346.58 601.45,346.62 607.55,346.54 C613.65,346.46 610.60,346.51 616.70,346.37 C622.80,346.22 619.75,346.29 625.85,346.11 C631.95,345.92 628.90,346.00 635.00,345.80 C641.10,345.60 638.05,345.68 644.15,345.49 C650.25,345.31 647.20,345.38 653.30,345.23 C659.40,345.09 656.35,345.14 662.45,345.06 C668.55,344.98 668.55,345.02 671.60,345.00"/>
<path d="M598.40,357.40 C601.45,357.39 601.45,357.41 607.55,357.37 C613.65,357.33 610.60,357.36 616.70,357.28 C622.80,357.21 619.75,357.25 625.85,357.15 C631.95,357.06 628.90,357.10 635.00,357.00 C641.10,356.90 638.05,356.94 644.15,356.85 C650.25,356.75 647.20,356.79 653.30,356.72 C659.40,356.64 656.35,356.67 662.45,356.63 C668.55,356.59 668.55,356.61 671.60,356.60"/>
<path d="M598.40,360.00 C601.45,359.99 601.45,360.01 607.55,359.98 C613.65,359.95 610.60,359.97 616.70,359.91 C622.80,359.86 619.75,359.89 625.85,359.81 C631.95,359.74 628.90,359.78 635.00,359.70 C641.10,359.62 638.05,359.66 644.15,359.59 C650.25,359.51 647.20,359.54 653.30,359.49 C659.40,359.43 656.35,359.45 662.45,359.42 C668.55,359.39 668.55,359.41 671.60,359.40"/>
<path d="M598.40,361.00 C601.45,361.01 601.45,360.99 607.55,361.04 C613.65,361.09 610.60,361.06 616.70,361.15 C622.80,361.24 619.75,361.19 625.85,361.31 C631.95,361.43 628.90,361.37 635.00,361.50 C641.10,361.63 638.05,361.57 644.15,361.69 C650.25,361.81 647.20,361.76 653.30,361.85 C659.40,361.94 656.35,361.91 662.45,361.96 C668.55,362.01 668.55,361.99 671.60,362.00"/>
<path d="M598.40,365.00 C601.45,364.99 601.45,365.01 607.55,364.96 C613.65,364.91 610.60,364.94 616.70,364.85 C622.80,364.76 619.75,364.81 625.85,364.69 C631.95,364.57 628.90,364.63 635.00,364.50 C641.10,364.37 638.05,364.43 644.15,364.31 C650.25,364.19 647.20,364.24 653.30,364.15 C659.40,364.06 656.35,364.09 662.45,364.04 C668.55,363.99 668.55,364.01 671.60,364.00"/>
</g>
<circle cx="129.20" cy="80.30" r="13.50" fill="rgba(80,185,115,0.42)" stroke="rgba(70,190,115,0.9)" stroke-width="0.9"/>
<circle cx="189.70" cy="131.60" r="12.50" fill="rgba(75,75,255,0.40)" stroke="rgba(50,50,250,0.95)" stroke-width="0.9"/>
<circle cx="295.30" cy="82.00" r="12.50" fill="rgba(242,85,85,0.38)" stroke="rgba(255,60,60,0.95)" stroke-width="0.9"/>
<circle cx="128.90" cy="318.30" r="13.60" fill="rgba(80,185,115,0.42)" stroke="rgba(70,190,115,0.9)" stroke-width="0.9"/>
<circle cx="188.30" cy="372.70" r="12.50" fill="rgba(75,75,255,0.40)" stroke="rgba(50,50,250,0.95)" stroke-width="0.9"/>
<circle cx="292.50" cy="318.30" r="12.60" fill="rgba(242,85,85,0.38)" stroke="rgba(255,60,60,0.95)" stroke-width="0.9"/>
<circle cx="570.30" cy="48.70" r="12.60" fill="rgba(75,75,255,0.40)" stroke="rgba(50,50,250,0.95)" stroke-width="0.9"/>
<circle cx="598.40" cy="33.30" r="12.40" fill="rgba(80,185,115,0.42)" stroke="rgba(70,190,115,0.9)" stroke-width="0.9"/>
<circle cx="672.00" cy="33.30" r="12.40" fill="rgba(242,85,85,0.38)" stroke="rgba(255,60,60,0.95)" stroke-width="0.9"/>
<circle cx="570.20" cy="285.70" r="12.30" fill="rgba(75,75,255,0.40)" stroke="rgba(50,50,250,0.95)" stroke-width="0.9"/>
<circle cx="598.80" cy="268.30" r="12.50" fill="rgba(80,185,115,0.42)" stroke="rgba(70,190,115,0.9)" stroke-width="0.9"/>
<circle cx="671.90" cy="268.30" r="12.50" fill="rgba(242,85,85,0.38)" stroke="rgba(255,60,60,0.95)" stroke-width="0.9"/>
<text x="202.10" y="10.50" font-size="13.8" text-anchor="middle" fill="#111" letter-spacing="0.15" stroke="#111" stroke-width="0.1">Without SOI</text>
<text x="194.70" y="247.70" font-size="13.8" text-anchor="middle" fill="#111" letter-spacing="0.15" stroke="#111" stroke-width="0.1">With SOI</text>
<text x="546.80" y="10.50" font-size="13.8" text-anchor="middle" fill="#111" letter-spacing="0.15" stroke="#111" stroke-width="0.1">Without SOI</text>
<text x="545.80" y="246.80" font-size="13.8" text-anchor="middle" fill="#111" letter-spacing="0.15" stroke="#111" stroke-width="0.1">With SOI</text>
<text x="11.60" y="30.20" font-size="14.5" text-anchor="start" fill="#111"  stroke="#111" stroke-width="0.1">(a)</text>
<text x="10.00" y="267.00" font-size="14.5" text-anchor="start" fill="#111"  stroke="#111" stroke-width="0.1">(b)</text>
<text x="384.00" y="31.20" font-size="14.5" text-anchor="start" fill="#111"  stroke="#111" stroke-width="0.1">(c)</text>
<text x="384.00" y="266.50" font-size="14.5" text-anchor="start" fill="#111"  stroke="#111" stroke-width="0.1">(d)</text>
<text transform="translate(41.20,20.00) scale(1.0,1)" font-size="10.2" text-anchor="end" fill="#222">1</text>
<text transform="translate(40.60,76.00) scale(1.3,1)" font-size="10.2" text-anchor="end" fill="#222">0</text>
<text transform="translate(40.60,132.00) scale(1.1,1)" font-size="10.2" text-anchor="end" fill="#222">-1</text>
<text transform="translate(40.60,188.00) scale(1.06,1)" font-size="10.2" text-anchor="end" fill="#222">-2</text>
<text transform="translate(38.90,257.80) scale(1.0,1)" font-size="10.2" text-anchor="end" fill="#222">1</text>
<text transform="translate(38.30,313.70) scale(1.3,1)" font-size="10.2" text-anchor="end" fill="#222">0</text>
<text transform="translate(38.30,369.70) scale(1.1,1)" font-size="10.2" text-anchor="end" fill="#222">-1</text>
<text transform="translate(38.30,425.90) scale(1.06,1)" font-size="10.2" text-anchor="end" fill="#222">-2</text>
<text x="417.40" y="31.10" font-size="10" text-anchor="end" fill="#3a3a3a" >0</text>
<text x="417.40" y="266.90" font-size="10" text-anchor="end" fill="#3a3a3a" >0</text>
<text x="417.40" y="286.50" font-size="10" text-anchor="end" fill="#3a3a3a" >-1</text>
<text x="417.40" y="69.96" font-size="10" text-anchor="end" fill="#3a3a3a" >-2</text>
<text x="417.40" y="306.10" font-size="10" text-anchor="end" fill="#3a3a3a" >-2</text>
<text x="417.40" y="89.39" font-size="10" text-anchor="end" fill="#3a3a3a" >-3</text>
<text x="417.40" y="325.70" font-size="10" text-anchor="end" fill="#3a3a3a" >-3</text>
<text x="417.40" y="108.82" font-size="10" text-anchor="end" fill="#3a3a3a" >-4</text>
<text x="417.40" y="345.30" font-size="10" text-anchor="end" fill="#3a3a3a" >-4</text>
<text x="417.40" y="128.25" font-size="10" text-anchor="end" fill="#3a3a3a" >-5</text>
<text x="417.40" y="364.90" font-size="10" text-anchor="end" fill="#3a3a3a" >-5</text>
<text x="417.40" y="147.68" font-size="10" text-anchor="end" fill="#3a3a3a" >-6</text>
<text x="417.40" y="384.50" font-size="10" text-anchor="end" fill="#3a3a3a" >-6</text>
<text x="417.40" y="167.11" font-size="10" text-anchor="end" fill="#3a3a3a" >-7</text>
<text x="417.40" y="404.10" font-size="10" text-anchor="end" fill="#3a3a3a" >-7</text>
<text x="417.40" y="186.54" font-size="10" text-anchor="end" fill="#3a3a3a" >-8</text>
<text x="417.40" y="423.70" font-size="10" text-anchor="end" fill="#3a3a3a" >-8</text>
<text transform="translate(22.00,101.00) rotate(-90) scale(1,1)" font-size="12.6" text-anchor="middle" fill="#111"><tspan font-style="italic">E</tspan><tspan font-size="8.316" dy="2.2">B</tspan><tspan dy="-2.2"> (eV)</tspan></text>
<text transform="translate(21.40,341.00) rotate(-90) scale(1,1)" font-size="12.6" text-anchor="middle" fill="#111"><tspan font-style="italic">E</tspan><tspan font-size="8.316" dy="2.2">B</tspan><tspan dy="-2.2"> (eV)</tspan></text>
<text transform="translate(397.30,105.00) rotate(-90) scale(0.95,1)" font-size="13.2" text-anchor="middle" fill="#111"><tspan font-style="italic">E</tspan><tspan font-size="8.712" dy="2.2">B</tspan><tspan dy="-2.2"> (eV)</tspan></text>
<text transform="translate(397.60,339.50) rotate(-90) scale(0.95,1)" font-size="13.2" text-anchor="middle" fill="#111"><tspan font-style="italic">E</tspan><tspan font-size="8.712" dy="2.2">B</tspan><tspan dy="-2.2"> (eV)</tspan></text>
<text transform="translate(48.90,199.30) scale(0.8,1)" font-size="14.6" text-anchor="middle" fill="#111" stroke="#111" stroke-width="0.1">Γ</text>
<text transform="translate(100.50,197.90) scale(1.2,1)" font-size="14.6" text-anchor="middle" fill="#111" stroke="#111" stroke-width="0.1">M</text>
<text transform="translate(130.90,197.90) scale(0.9,1)" font-size="14.6" text-anchor="middle" fill="#111" stroke="#111" stroke-width="0.1">K</text>
<text transform="translate(189.00,199.30) scale(0.8,1)" font-size="14.6" text-anchor="middle" fill="#111" stroke="#111" stroke-width="0.1">Γ</text>
<text transform="translate(213.60,198.80) scale(0.88,1)" font-size="14.6" text-anchor="middle" fill="#111" stroke="#111" stroke-width="0.1">A</text>
<text transform="translate(265.00,198.80) scale(0.94,1)" font-size="14.6" text-anchor="middle" fill="#111" stroke="#111" stroke-width="0.1">L</text>
<text transform="translate(294.70,198.80) scale(0.97,1)" font-size="14.6" text-anchor="middle" fill="#111" stroke="#111" stroke-width="0.1">H</text>
<text transform="translate(354.10,198.80) scale(0.88,1)" font-size="14.6" text-anchor="middle" fill="#111" stroke="#111" stroke-width="0.1">A</text>
<text transform="translate(47.90,437.30) scale(0.8,1)" font-size="14.6" text-anchor="middle" fill="#111" stroke="#111" stroke-width="0.1">Γ</text>
<text transform="translate(99.40,435.90) scale(1.2,1)" font-size="14.6" text-anchor="middle" fill="#111" stroke="#111" stroke-width="0.1">M</text>
<text transform="translate(129.80,435.90) scale(0.9,1)" font-size="14.6" text-anchor="middle" fill="#111" stroke="#111" stroke-width="0.1">K</text>
<text transform="translate(188.60,437.30) scale(0.8,1)" font-size="14.6" text-anchor="middle" fill="#111" stroke="#111" stroke-width="0.1">Γ</text>
<text transform="translate(213.00,436.70) scale(0.88,1)" font-size="14.6" text-anchor="middle" fill="#111" stroke="#111" stroke-width="0.1">A</text>
<text transform="translate(263.80,436.70) scale(0.94,1)" font-size="14.6" text-anchor="middle" fill="#111" stroke="#111" stroke-width="0.1">L</text>
<text transform="translate(293.20,436.70) scale(0.97,1)" font-size="14.6" text-anchor="middle" fill="#111" stroke="#111" stroke-width="0.1">H</text>
<text transform="translate(352.70,436.70) scale(0.88,1)" font-size="14.6" text-anchor="middle" fill="#111" stroke="#111" stroke-width="0.1">A</text>
<text transform="translate(418.40,199.00) scale(0.84,1)" font-size="14" fill="#111" stroke="#111" stroke-width="0.1">Γ<tspan font-size="11" dy="3.9">0</tspan></text>
<text x="497.20" y="199.00" font-size="14" text-anchor="middle" fill="#111"  stroke="#111" stroke-width="0.1">A</text>
<text transform="translate(565.40,199.00) scale(0.84,1)" font-size="14" fill="#111" stroke="#111" stroke-width="0.1">Γ<tspan font-size="11" dy="3.9">1</tspan></text>
<text x="600.30" y="199.00" font-size="14" text-anchor="middle" fill="#111"  stroke="#111" stroke-width="0.1">K</text>
<text x="671.80" y="199.00" font-size="14" text-anchor="middle" fill="#111"  stroke="#111" stroke-width="0.1">H</text>
<text transform="translate(419.40,435.00) scale(0.84,1)" font-size="14" fill="#111" stroke="#111" stroke-width="0.1">Γ<tspan font-size="11" dy="3.9">0</tspan></text>
<text x="497.70" y="435.00" font-size="14" text-anchor="middle" fill="#111"  stroke="#111" stroke-width="0.1">A</text>
<text transform="translate(565.40,434.60) scale(0.84,1)" font-size="14" fill="#111" stroke="#111" stroke-width="0.1">Γ<tspan font-size="11" dy="3.9">1</tspan></text>
<text x="600.50" y="434.60" font-size="14" text-anchor="middle" fill="#111"  stroke="#111" stroke-width="0.1">K</text>
<text x="672.30" y="434.60" font-size="14" text-anchor="middle" fill="#111"  stroke="#111" stroke-width="0.1">H</text>
</svg>
</body></html>
